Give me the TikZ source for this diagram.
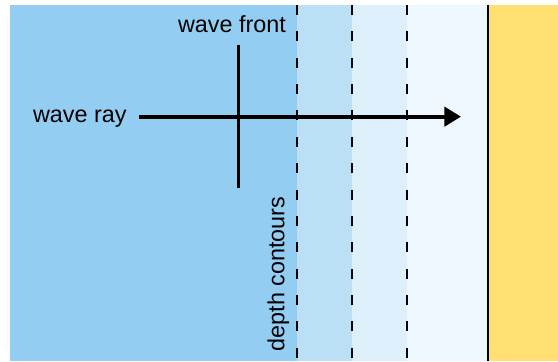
\documentclass[tikz,border=0pt]{standalone}
\usepackage{fontspec}
\setmainfont{Liberation Sans}
\usetikzlibrary{arrows.meta}
\definecolor{deep}{HTML}{93CEF2}
\definecolor{mid}{HTML}{BBE0F6}
\definecolor{shallow}{HTML}{DCEFFA}
\definecolor{surf}{HTML}{EFF7FE}
\definecolor{sand}{HTML}{FFE070}

\begin{document}
\begin{tikzpicture}[font=\fontsize{13.3}{16}\selectfont,>=Latex]
\tikzset{contour/.style={black,line width=.85pt,dash pattern=on 5.7pt off 9.3pt},
  label/.style={inner sep=0pt,black}}

\useasboundingbox (0,0) rectangle (11.16,7.24);
% sea bands, deep to shallow
\fill[deep] (.2,.02) rectangle (5.94,7.14);
\fill[mid] (5.94,.02) rectangle (7.04,7.14);
\fill[shallow] (7.04,.02) rectangle (8.14,7.14);
\fill[surf] (8.14,.02) rectangle (9.76,7.14);
\fill[sand] (9.76,.02) rectangle (11.16,7.14);
\draw[line width=1.1pt] (9.76,.02)--(9.76,7.14);

\foreach \x in {5.94,7.04,8.14}{
  \draw[contour] (\x,7.14)--(\x,.02);
}

\coordinate (R0) at (2.78,4.907);
\coordinate (R1) at (9.22,4.907);
\coordinate (F0) at (4.77,6.34);
\coordinate (F1) at (4.77,3.47);
\draw[line width=1.6pt] (F0)--(F1);
\draw[-{Triangle[length=9.4pt,width=10.8pt]},line width=2.26pt] (R0)--(R1);

\node[label,anchor=base east] (ray) at (2.54,4.78) {wave ray};
\node[label,anchor=base] (front) at (4.64,6.58) {wave front};
\node[label,anchor=base west,rotate=90] (depth) at (5.686,.206) {depth contours};
\end{tikzpicture}
\end{document}
